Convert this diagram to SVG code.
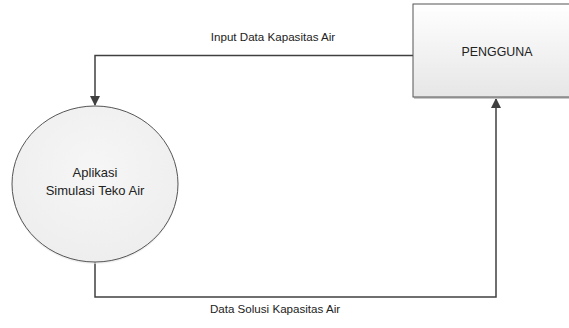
<svg xmlns="http://www.w3.org/2000/svg" width="569" height="328" viewBox="0 0 569 328">
<defs>
<linearGradient id="rg" x1="0" y1="0" x2="0" y2="1">
<stop offset="0" stop-color="#ffffff"/>
<stop offset="1" stop-color="#e6e6e6"/>
</linearGradient>
<radialGradient id="cg" cx="0.5" cy="0.4" r="0.6">
<stop offset="0" stop-color="#f6f6f6"/>
<stop offset="1" stop-color="#eeeeee"/>
</radialGradient>
<marker id="arr" markerWidth="10" markerHeight="10" refX="9" refY="5" orient="auto" markerUnits="userSpaceOnUse">
<path d="M0,0 L10,5 L0,10 Z" fill="#404040"/>
</marker>
<style>
text{font-family:"Liberation Sans",Arial,sans-serif;fill:#222;text-anchor:middle}
.lbl{font-size:11.6px}
.node{font-size:13px}
.conn{fill:none;stroke:#404040;stroke-width:1.5}
</style>
</defs>
<g id="connectors">
<polyline class="conn" points="413,55.5 95,55.5 95,105" marker-end="url(#arr)"/>
<polyline class="conn" points="95,262 95,297 496,297 496,99" marker-end="url(#arr)"/>
<text class="lbl" x="273" y="41">Input Data Kapasitas Air</text>
<text class="lbl" x="275" y="313">Data Solusi Kapasitas Air</text>
</g>
<g id="pengguna">
<rect x="414" y="6" width="168" height="93" fill="#c8c8c8"/>
<rect x="413" y="4" width="168" height="93" fill="url(#rg)" stroke="#555" stroke-width="1"/>
<text x="497" y="56" style="font-size:12.4px">PENGGUNA</text>
</g>
<g id="aplikasi">
<ellipse cx="95" cy="186" rx="83" ry="78" fill="#e4e4e4" opacity="0.6"/>
<ellipse cx="95" cy="184" rx="83" ry="78" fill="url(#cg)" stroke="#555" stroke-width="1"/>
<text class="node" x="95" y="177">Aplikasi</text>
<text class="node" x="95" y="195">Simulasi Teko Air</text>
</g>
</svg>
